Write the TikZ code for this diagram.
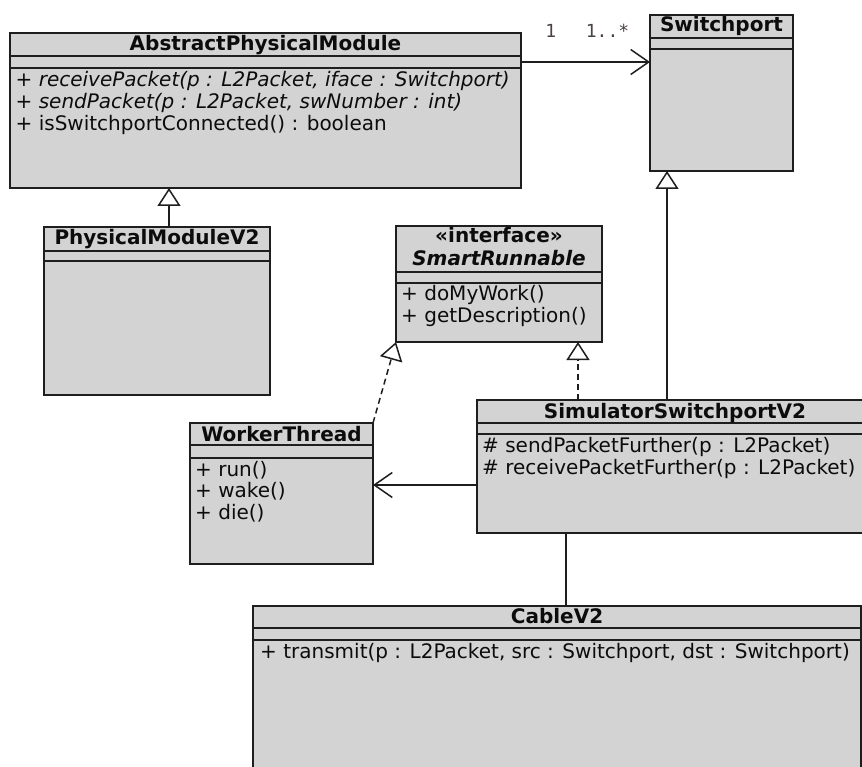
\documentclass[tikz,border=0pt]{standalone}
\usepackage{fontspec}
\setmainfont{DejaVu Sans}
\newfontfamily\labelfont{DejaVu Sans Mono}
\usetikzlibrary{arrows.meta}

\definecolor{boxfill}{RGB}{211,211,211}
\definecolor{edge}{RGB}{30,30,30}
\definecolor{ink}{RGB}{12,12,12}
\definecolor{multcol}{RGB}{75,65,65}

\tikzset{
  umlbox/.style={rectangle, draw=edge, fill=boxfill, line width=1.8pt,
    inner sep=0pt, outer sep=0pt, anchor=north west},
  divider/.style={draw=edge, line width=1.8pt},
  title/.style={font=\fontsize{20}{22}\selectfont\bfseries, text=ink,
    inner sep=0pt, text height=14pt, text depth=4pt},
  member/.style={font=\fontsize{20}{22}\selectfont, text=ink, inner sep=0pt,
    anchor=west, text height=14pt, text depth=4pt},
  abstractmember/.style={member, font=\fontsize{20}{22}\selectfont\itshape},
  mult/.style={font=\labelfont\fontsize{18}{20}\selectfont, text=multcol,
    inner sep=0pt},
  conn/.style={draw=edge, line width=1.5pt},
  assoc/.style={conn, -{Straight Barb[length=18pt, width=25pt, line width=1.5pt]}},
  inherit/.style={conn, -{Triangle[length=18pt, width=23pt, fill=white, line width=1.5pt]}},
  realize/.style={inherit, dash pattern=on 6pt off 4pt},
}

\begin{document}
\begin{tikzpicture}[x=1pt, y=-1pt]
\useasboundingbox (0,0) rectangle (862,767);

% ---- class boxes ----
\node[umlbox, minimum width=511pt, minimum height=155pt] (apm) at (10,33) {};
\draw[divider] (apm.north west) ++(0,23) -- ++(511,0);
\draw[divider] (apm.north west) ++(0,35) -- ++(511,0);

\node[umlbox, minimum width=143pt, minimum height=156pt] (sp) at (650,15) {};
\draw[divider] (sp.north west) ++(0,23) -- ++(143,0);
\draw[divider] (sp.north west) ++(0,34) -- ++(143,0);

\node[umlbox, minimum width=226pt, minimum height=168pt] (pm) at (44,227) {};
\draw[divider] (pm.north west) ++(0,24) -- ++(226,0);
\draw[divider] (pm.north west) ++(0,34) -- ++(226,0);

\node[umlbox, minimum width=206pt, minimum height=116pt] (sr) at (396,226) {};
\draw[divider] (sr.north west) ++(0,46) -- ++(206,0);
\draw[divider] (sr.north west) ++(0,57) -- ++(206,0);

\node[umlbox, minimum width=183pt, minimum height=141pt] (wt) at (190,423) {};
\draw[divider] (wt.north west) ++(0,22) -- ++(183,0);
\draw[divider] (wt.north west) ++(0,35) -- ++(183,0);

\node[umlbox, minimum width=396pt, minimum height=133pt] (ssv) at (477,400) {};
\draw[divider] (ssv.north west) ++(0,23) -- ++(396,0);
\draw[divider] (ssv.north west) ++(0,34) -- ++(396,0);

\node[umlbox, minimum width=608pt, minimum height=174pt] (cable) at (253,606) {};
\draw[divider] (cable.north west) ++(0,22) -- ++(608,0);
\draw[divider] (cable.north west) ++(0,34) -- ++(608,0);

% ---- titles and members ----
\node[title] (apm-t) at (265.5,46) {AbstractPhysicalModule};
\node[abstractmember] (apm-m1) at (15.5,81.5) {+ receivePacket(p : L2Packet, iface : Switchport)};
\node[abstractmember] (apm-m2) at (15.5,103.5) {+ sendPacket(p : L2Packet, swNumber : int)};
\node[member] (apm-m3) at (15.5,125.5) {+ isSwitchportConnected() : boolean};

\node[title] (sp-t) at (721.5,27) {Switchport};

\node[title] (pm-t) at (157,240) {PhysicalModuleV2};

\node[title] (sr-s) at (499,237.5) {«interface»};
\node[title, font=\fontsize{20}{22}\selectfont\bfseries\itshape] (sr-t) at (499,261) {SmartRunnable};
\node[member] (sr-m1) at (401,295.5) {+ doMyWork()};
\node[member] (sr-m2) at (401,318) {+ getDescription()};

\node[title] (wt-t) at (281.5,436) {WorkerThread};
\node[member] (wt-m1) at (195,471) {+ run()};
\node[member] (wt-m2) at (195,492.5) {+ wake()};
\node[member] (wt-m3) at (195,514) {+ die()};

\node[title] (ssv-t) at (675,413) {SimulatorSwitchportV2};
\node[member] (ssv-m1) at (482,447.5) {\# sendPacketFurther(p : L2Packet)};
\node[member] (ssv-m2) at (482,469) {\# receivePacketFurther(p : L2Packet)};

\node[title] (cable-t) at (557,618.5) {CableV2};
\node[member] (cable-m1) at (260,653) {+ transmit(p : L2Packet, src : Switchport, dst : Switchport)};

% ---- relations ----
\draw[assoc] (apm.east |- 0,62) -- (sp.west |- 0,62);
\node[mult] (mult-a) at (550.7,30.5) {1};
\node[mult] (mult-b) at (607.5,30.5) {1..*};

\draw[inherit] (pm.north -| 169,0) -- (apm.south -| 169,0);
\draw[inherit] (ssv.north -| 667,0) -- (sp.south -| 667,0);
\draw[realize] (ssv.north -| 578,0) -- (sr.south -| 578,0);
\draw[realize] (wt.north east) -- (sr.south west);
\draw[assoc] (ssv.west |- 0,485) -- (wt.east |- 0,485);
\draw[conn] (ssv.south -| 566,0) -- (cable.north -| 566,0);

\end{tikzpicture}
\end{document}
